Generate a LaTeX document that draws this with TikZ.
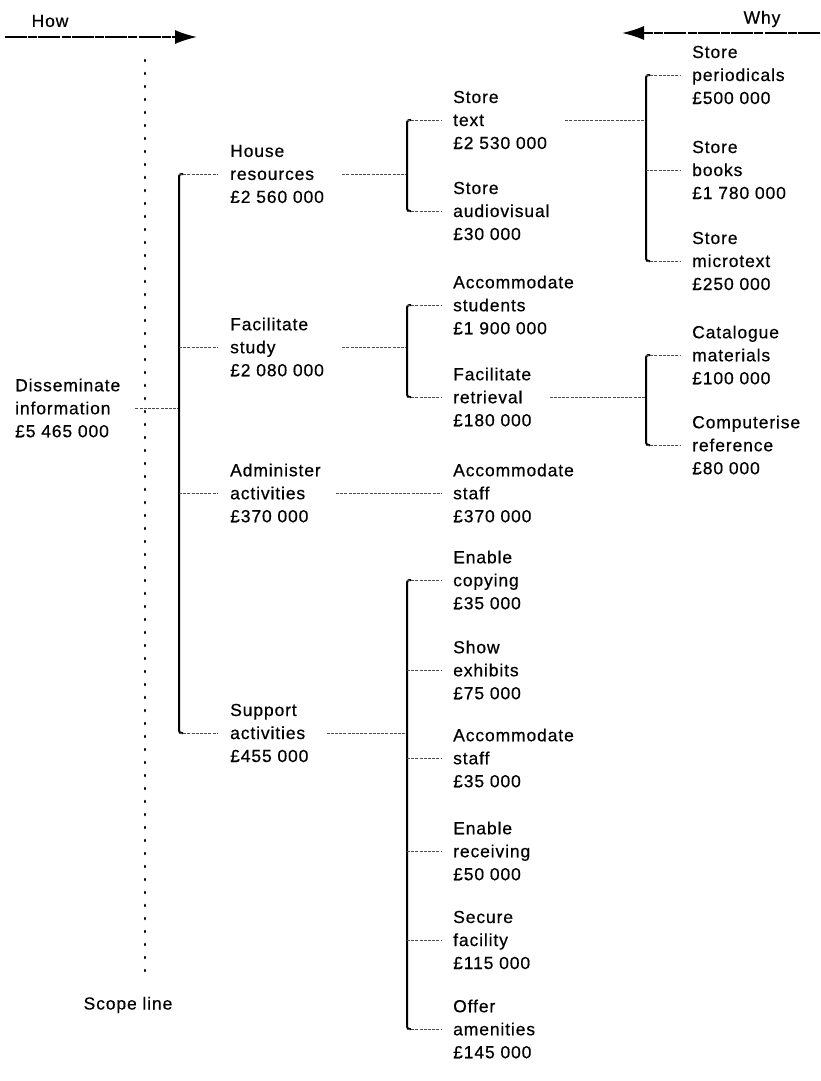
\documentclass[tikz,border=0pt]{standalone}
\usepackage{fontspec}
\setmainfont{Liberation Sans}[LetterSpace=5,FakeBold=0.5]
\usetikzlibrary{arrows.meta}
\begin{document}
\begin{tikzpicture}[x=1pt,y=-1pt,
  lbl/.style={anchor=west, align=left, inner sep=0pt, font=\fontsize{17.5}{23}\selectfont},
  word/.style={inner sep=0pt, font=\fontsize{17.5}{23}\selectfont},
  conn/.style={draw=black!70, line width=0.7pt, dash pattern=on 3pt off 1.2pt},
  brk/.style={draw=black, line width=2pt, rounded corners=2.5pt},
  scopeline/.style={draw=black, line width=2.6pt, line cap=round, dash pattern=on 1pt off 12pt},
  dirarrow/.style={draw=black, line width=1.5pt, dash pattern=on 22pt off 1.2pt on 9pt off 1.2pt,
    -{Latex[length=22pt,width=14pt]}}
]
\useasboundingbox (0,0) rectangle (821,1081);

% bracket columns
\coordinate (x1) at (179,0);
\coordinate (x2) at (407,0);
\coordinate (x3) at (646,0);

% How / Why direction arrows
\node[word] (how) at (50,21) {How};
\coordinate (hs) at (5,37);
\coordinate (he) at (197,37);
\draw[dirarrow] (hs) -- (he);
\node[word] (why) at (762,19) {Why};
\coordinate (ws) at (820,33);
\coordinate (we) at (622,33);
\draw[dirarrow] (ws) -- (we);

% scope line
\coordinate (st) at (145,60);
\coordinate (sb) at (145,978);
\draw[scopeline] (st) -- (sb);
\node[word] (scl) at (128,1005) {Scope line};

% level 0
\node[lbl] (dis) at (15,408) {Disseminate\\information\\£5 465 000};

% level 1
\node[lbl] (hou) at (230,174) {House\\resources\\£2 560 000};
\node[lbl] (fst) at (230,347) {Facilitate\\study\\£2 080 000};
\node[lbl] (adm) at (230,493) {Administer\\activities\\£370 000};
\node[lbl] (sup) at (230,733) {Support\\activities\\£455 000};

% level 2
\node[lbl] (stt) at (453,120) {Store\\text\\£2 530 000};
\node[lbl] (sav) at (453,211) {Store\\audiovisual\\£30 000};
\node[lbl] (ast) at (453,305) {Accommodate\\students\\£1 900 000};
\node[lbl] (fre) at (453,397) {Facilitate\\retrieval\\£180 000};
\node[lbl] (asf) at (453,493) {Accommodate\\staff\\£370 000};
\node[lbl] (eco) at (453,580) {Enable\\copying\\£35 000};
\node[lbl] (sex) at (453,670) {Show\\exhibits\\£75 000};
\node[lbl] (asn) at (453,758) {Accommodate\\staff\\£35 000};
\node[lbl] (ere) at (453,851) {Enable\\receiving\\£50 000};
\node[lbl] (sfa) at (453,940) {Secure\\facility\\£115 000};
\node[lbl] (oam) at (453,1029) {Offer\\amenities\\£145 000};

% level 3
\node[lbl] (spe) at (692,75) {Store\\periodicals\\£500 000};
\node[lbl] (sbo) at (692,170) {Store\\books\\£1 780 000};
\node[lbl] (smi) at (692,261) {Store\\microtext\\£250 000};
\node[lbl] (cma) at (692,355) {Catalogue\\materials\\£100 000};
\node[lbl] (cre) at (692,445) {Computerise\\reference\\£80 000};

% Disseminate information -> level 1
\draw[conn] ([xshift=15pt]dis.east) -- (dis.east -| x1);
\draw[brk] (hou.west -| x1) ++(4,0) -- (hou.west -| x1) -- (sup.west -| x1) -- ++(4,0);
\foreach \c in {hou,fst,adm,sup}
  \draw[conn] (\c.west -| x1) -- ([xshift=-13pt]\c.west);

% House resources -> storage
\draw[conn] ([xshift=18pt]hou.east) -- (hou.east -| x2);
\draw[brk] (stt.west -| x2) ++(4,0) -- (stt.west -| x2) -- (sav.west -| x2) -- ++(4,0);
\foreach \c in {stt,sav}
  \draw[conn] (\c.west -| x2) -- ([xshift=-12pt]\c.west);

% Facilitate study
\draw[conn] ([xshift=18pt]fst.east) -- (fst.east -| x2);
\draw[brk] (ast.west -| x2) ++(4,0) -- (ast.west -| x2) -- (fre.west -| x2) -- ++(4,0);
\foreach \c in {ast,fre}
  \draw[conn] (\c.west -| x2) -- ([xshift=-12pt]\c.west);

% Administer activities
\draw[conn] ([xshift=15pt]adm.east) -- ([xshift=-12pt]asf.west);

% Support activities
\draw[conn] ([xshift=18pt]sup.east) -- (sup.east -| x2);
\draw[brk] (eco.west -| x2) ++(4,0) -- (eco.west -| x2) -- (oam.west -| x2) -- ++(4,0);
\foreach \c in {eco,sex,asn,ere,sfa,oam}
  \draw[conn] (\c.west -| x2) -- ([xshift=-12pt]\c.west);

% Store text
\draw[conn] ([xshift=18pt]stt.east) -- (stt.east -| x3);
\draw[brk] (spe.west -| x3) ++(4,0) -- (spe.west -| x3) -- (smi.west -| x3) -- ++(4,0);
\foreach \c in {spe,sbo,smi}
  \draw[conn] (\c.west -| x3) -- ([xshift=-12pt]\c.west);

% Facilitate retrieval
\draw[conn] ([xshift=18pt]fre.east) -- (fre.east -| x3);
\draw[brk] (cma.west -| x3) ++(4,0) -- (cma.west -| x3) -- (cre.west -| x3) -- ++(4,0);
\foreach \c in {cma,cre}
  \draw[conn] (\c.west -| x3) -- ([xshift=-12pt]\c.west);

\end{tikzpicture}
\end{document}
